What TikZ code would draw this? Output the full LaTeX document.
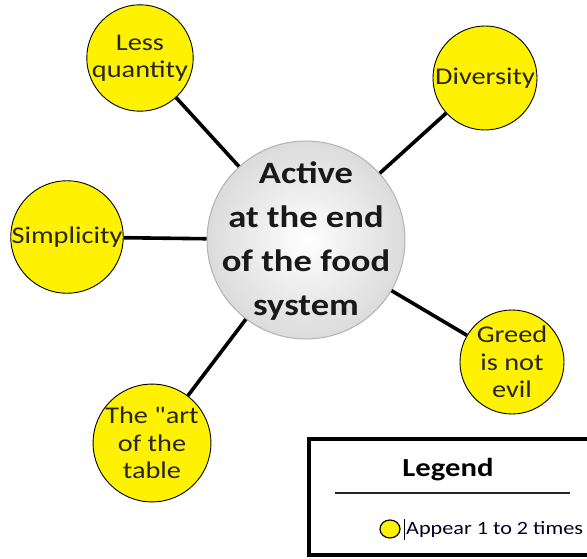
\documentclass[tikz,border=0pt]{standalone}
\usepackage{fontspec}
\usetikzlibrary{shapes.geometric}
% plain family: no TeX mapping, so " stays a straight quote
\newfontfamily\calib{Carlito}[FakeStretch=1.18]
\begin{document}
\begin{tikzpicture}[x=1pt,y=-1pt,
  topic/.style={circle,draw=black,line width=0.9pt,fill=yellow,
    inner sep=0pt,minimum size=104pt,align=center,
    font=\calib\fontsize{24}{27.5}\selectfont,text=black!85},
  hub/.style={circle,draw=gray!60,line width=1pt,inner sep=0pt,
    minimum size=198pt,shading=radial,inner color=white,
    outer color=gray!28},
  hubtext/.style={align=center,inner sep=0pt,
    font=\calib\fontsize{31}{44}\selectfont\bfseries,text=black!90},
  spoke/.style={line width=3.6pt,black}]
  \useasboundingbox (0,0) rectangle (587,559);

  % central theme and its topics
  \node[hub] (center) at (306,240) {};
  \node[hubtext] (centertext) at (306,241) {Active\\at the end\\of the food\\system};
  \node[topic] (less) at (140,58) {Less\\quantity};
  \node[topic] (div) at (485,78) {Diversity};
  \node[topic,minimum size=106pt] (simp) at (67,237) {Simplicity};
  \node[topic] (greed) at (512,362) {Greed\\is not\\evil};
  \node[topic,minimum size=106pt] (art) at (152,443) {The "art\\of the\\table};

  % spokes from each topic to the centre
  \draw[spoke] (less) -- (center);
  \draw[spoke] (div) -- (center);
  \draw[spoke] (simp) -- (center);
  \draw[spoke] (greed) -- (center);
  \draw[spoke] (art) -- (center);

  % legend box
  \draw[line width=4pt] (309,439) rectangle (600,555);
  \node[font=\calib\fontsize{26}{30}\selectfont\bfseries] (legtitle) at (448,470) {Legend};
  \coordinate (ruleL) at (335,493);
  \coordinate (ruleR) at (570,493);
  \draw[line width=1.2pt,black!85] (ruleL) -- (ruleR);
  \node[ellipse,draw=black,line width=1.2pt,fill=yellow,inner sep=0pt,
    minimum width=20pt,minimum height=18pt] (legdot) at (390,529) {};
  \coordinate (barT) at (404,519);
  \coordinate (barB) at (404,540);
  \draw[line width=0.8pt] (barT) -- (barB);
  \node[anchor=west,inner sep=0pt,font=\calib\fontsize{18.8}{22}\selectfont,
    text=black!85!blue] (legtext) at (406,530) {Appear 1 to 2 times};
\end{tikzpicture}
\end{document}
